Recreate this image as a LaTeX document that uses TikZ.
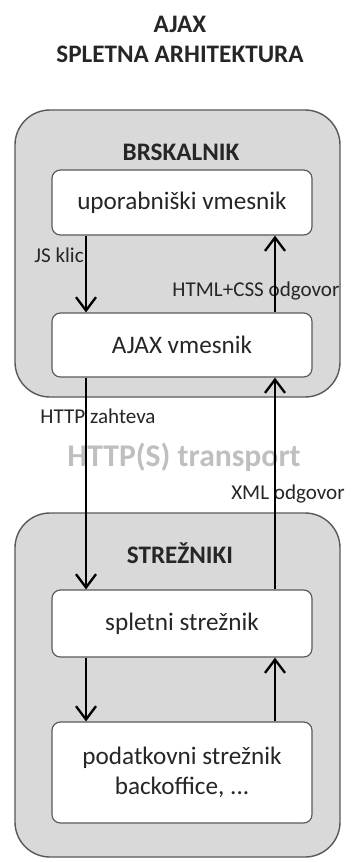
\documentclass[tikz,border=0pt]{standalone}
\usepackage{fontspec}
\setmainfont{Carlito}
\usetikzlibrary{arrows.meta,calc,positioning}
\definecolor{tiergray}{HTML}{D9D9D9}
\definecolor{edgegray}{HTML}{595959}
\definecolor{inkgray}{HTML}{262626}
\definecolor{fadegray}{HTML}{BFBFBF}

\begin{document}
\begin{tikzpicture}[
		x=0.03cm, y=-0.03cm,
		font=\fontsize{21.5}{25}\selectfont, text=inkgray,
		tier/.style={draw=edgegray, fill=tiergray, rounded corners=1.05cm,
				minimum width=9.75cm, line width=1.2pt},
		layer/.style={draw=edgegray, fill=white, rounded corners=0.25cm,
				minimum width=7.8cm, align=center, line width=1pt},
		tiername/.style={font=\fontsize{21.5}{25.5}\selectfont\bfseries},
		note/.style={font=\fontsize{18}{21}\selectfont, inner sep=0pt},
		flow/.style={-{Straight Barb[length=0.4cm,width=0.6cm]},
				line width=2pt, black},
	]
	\useasboundingbox (0,0) rectangle (354,862);

	\node[tiername, align=center] (title) at (180,39)
	{AJAX\\SPLETNA ARHITEKTURA};

	% browser side
	\node[tier, minimum height=8.61cm] (browser) at (177.5,253.5) {};
	\node[tiername] (brsk) at (181,152) {BRSKALNIK};
	\node[layer, minimum height=1.95cm] (ui) at (182,202.5) {uporabniški vmesnik};
	\node[layer, minimum height=1.92cm] (ajax) at (182,345) {AJAX vmesnik};

	% server side
	\node[tier, minimum height=10.32cm] (servers) at (177.5,685) {};
	\node[tiername] (strez) at (180,553) {STREŽNIKI};
	\node[layer, minimum height=2.01cm] (web) at (182,623.5) {spletni strežnik};
	\node[layer, minimum height=3.03cm] (data) at (182,772.5)
	{podatkovni strežnik\\backoffice, ...};

	\node[font=\fontsize{27}{31}\selectfont\bfseries, text=fadegray]
	(transport) at (184,457) {HTTP(S) transport};

	\coordinate (down) at (86,0);
	\coordinate (up) at (275,0);

	\node[note, anchor=east] (jsklic) at (84,255) {JS klic};
	\node[note] (htmlcss) at (256,291) {HTML+CSS odgovor};
	\node[note] (zahteva) at (98,416) {HTTP zahteva};
	\node[note] (xmlodg) at (288,494) {XML odgovor};

	% requests go down on the left, answers come back up on the right
	\draw[flow] (ui.south -| down) -- (ajax.north -| down);
	\draw[flow] (ajax.south -| down) -- (web.north -| down);
	\draw[flow] (web.south -| down) -- (data.north -| down);
	\draw[flow] (data.north -| up) -- (web.south -| up);
	\draw[flow] (web.north -| up) -- (ajax.south -| up);
	\draw[flow] (ajax.north -| up) -- (ui.south -| up);

\end{tikzpicture}
\end{document}
